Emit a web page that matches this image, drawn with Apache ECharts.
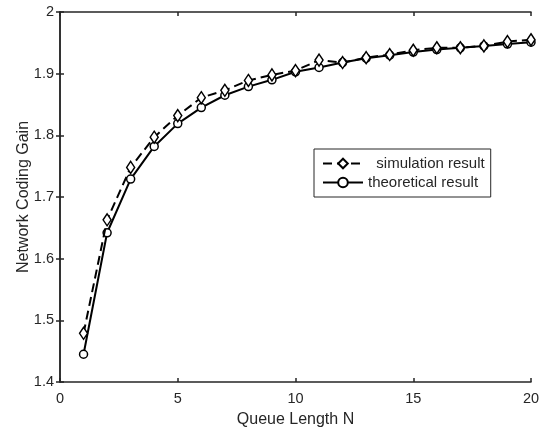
<!DOCTYPE html>
<html>
<head>
<meta charset="utf-8">
<script src="https://cdn.jsdelivr.net/npm/echarts@6/dist/echarts.min.js"></script>
<style>
  html, body { margin: 0; padding: 0; background: #fff; }
  #chart { width: 545px; height: 429px; }
</style>
</head>
<body>
<div id="chart"></div>
<script>
// 数据
var queueLength = [1,2,3,4,5,6,7,8,9,10,11,12,13,14,15,16,17,18,19,20];
var simulation = [1.479,1.663,1.748,1.797,1.832,1.861,1.873,1.889,1.898,1.905,
                  1.922,1.918,1.926,1.931,1.938,1.942,1.942,1.945,1.952,1.955];
var theoretical = [1.445,1.642,1.729,1.782,1.819,1.845,1.865,1.879,1.890,1.903,
                   1.910,1.918,1.925,1.930,1.935,1.939,1.942,1.945,1.948,1.951];
var xTicks = [0,5,10,15,20];
var yTicks = [1.4,1.5,1.6,1.7,1.8,1.9,2];

function pairs(xs, ys) {
  return xs.map(function (x, i) { return [x, ys[i]]; });
}

var textColor = '#262626';
var fontFamily = 'Liberation Sans, Arial, sans-serif';

var axisLine = { show: true, lineStyle: { color: textColor, width: 1.5 } };
var tickIn = { show: true, inside: true, length: 4, lineStyle: { color: textColor, width: 1.5 } };

var option = {
  animation: false,
  backgroundColor: '#fff',
  grid: { left: 60, right: 14, top: 12, bottom: 47, outerBoundsMode: 'none' },
  legend: {
    left: 314, top: 149,
    orient: 'vertical',
    itemWidth: 40, itemHeight: 12, itemGap: 4,
    padding: [7, 6, 7, 8],
    borderColor: textColor, borderWidth: 1,
    backgroundColor: '#fff',
    textStyle: { color: textColor, fontSize: 15, fontFamily: fontFamily },
    data: ['simulation result', 'theoretical result'],
    formatter: function (name) {
      return name === 'simulation result' ? '  ' + name : name;
    }
  },
  xAxis: [
    {
      type: 'value', min: 0, max: 20, interval: 5,
      name: 'Queue Length N', nameLocation: 'middle', nameGap: 30,
      nameMoveOverlap: false,
      nameTextStyle: { color: textColor, fontSize: 16, fontFamily: fontFamily },
      axisLine: axisLine, axisTick: tickIn,
      axisLabel: { color: textColor, fontSize: 14.5, fontFamily: fontFamily, margin: 9 },
      splitLine: { show: false }
    },
    {
      type: 'value', min: 0, max: 20, interval: 5, position: 'top',
      axisLine: axisLine, axisTick: tickIn,
      axisLabel: { show: false }, splitLine: { show: false }
    }
  ],
  yAxis: [
    {
      type: 'value', min: 1.4, max: 2, interval: 0.1,
      name: 'Network Coding Gain', nameLocation: 'middle', nameGap: 28,
      nameMoveOverlap: false,
      nameTextStyle: { color: textColor, fontSize: 16, fontFamily: fontFamily },
      axisLine: axisLine, axisTick: tickIn,
      axisLabel: {
        color: textColor, fontSize: 14.5, fontFamily: fontFamily, margin: 6,
        formatter: function (v) { return Math.abs(v - 2) < 1e-9 ? '2' : v.toFixed(1); }
      },
      splitLine: { show: false }
    },
    {
      type: 'value', min: 1.4, max: 2, interval: 0.1, position: 'right',
      axisLine: axisLine, axisTick: tickIn,
      axisLabel: { show: false }, splitLine: { show: false }
    }
  ],
  series: [
    {
      name: 'simulation result',
      type: 'line',
      data: pairs(queueLength, simulation),
      symbol: 'diamond', symbolSize: [8, 12],
      lineStyle: { color: '#000', width: 2, type: [9, 5] },
      itemStyle: { color: '#fff', borderColor: '#000', borderWidth: 1.5 },
      z: 3
    },
    {
      name: 'theoretical result',
      type: 'line',
      data: pairs(queueLength, theoretical),
      symbol: 'circle', symbolSize: 8,
      lineStyle: { color: '#000', width: 2 },
      itemStyle: { color: '#fff', borderColor: '#000', borderWidth: 1.5 },
      z: 2
    }
  ]
};

var chart = echarts.init(document.getElementById('chart'));
chart.setOption(option);
</script>
</body>
</html>
